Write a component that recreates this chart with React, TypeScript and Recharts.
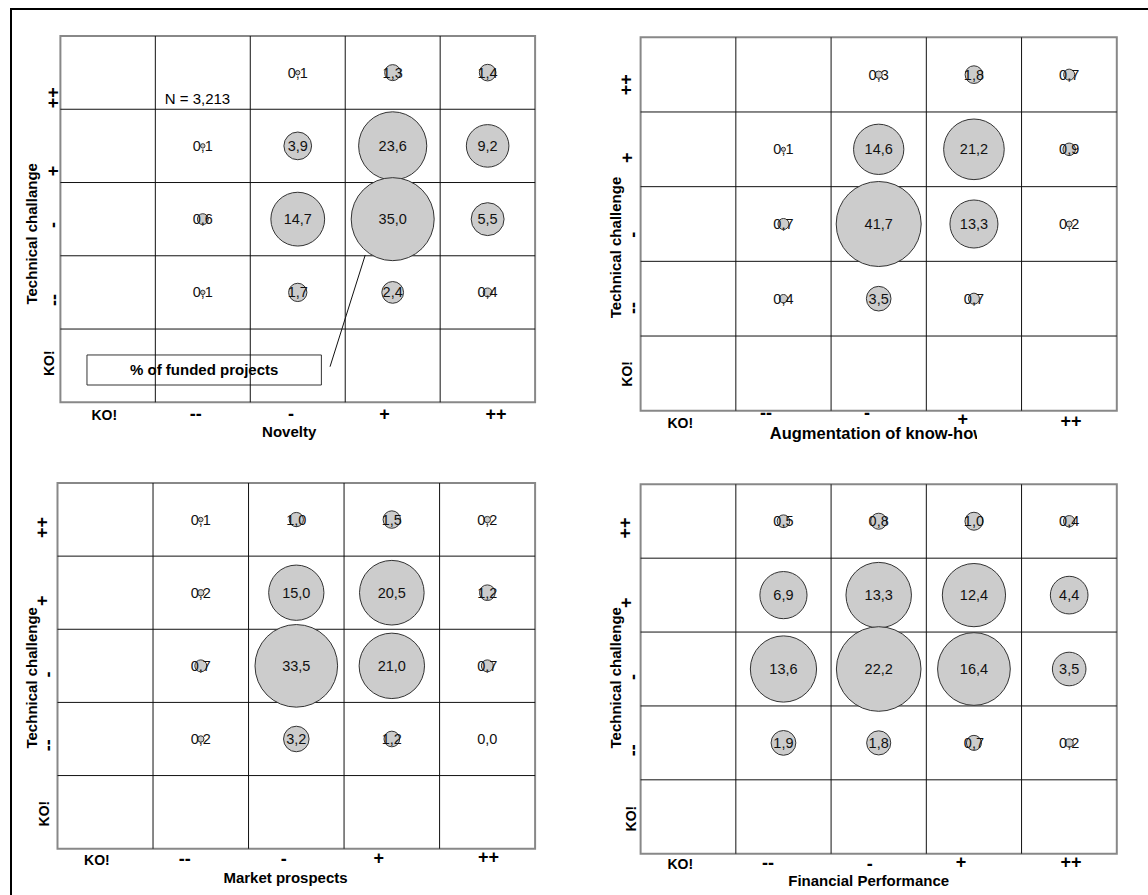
import React from 'react';
import {
  ScatterChart,
  Scatter,
  XAxis,
  YAxis,
  ZAxis,
  ReferenceLine,
  ReferenceArea,
  ReferenceDot,
  Label,
} from 'recharts';

// category labels, left to right / bottom to top
const xCategories = ['KO!', '--', '-', '+', '++'];
const yCategories = ['KO!', '--', '-', '+', '++'];

// % of funded projects
// rows: technical challenge ++, +, -, --   columns: --, -, +, ++   (KO! row / column empty)
const noveltyValues = [
  [null, 0.1, 1.3, 1.4],
  [0.1, 3.9, 23.6, 9.2],
  [0.6, 14.7, 35.0, 5.5],
  [0.1, 1.7, 2.4, 0.4],
];
const knowHowValues = [
  [null, 0.3, 1.8, 0.7],
  [0.1, 14.6, 21.2, 0.9],
  [0.7, 41.7, 13.3, 0.2],
  [0.4, 3.5, 0.7, null],
];
const marketValues = [
  [0.1, 1.0, 1.5, 0.2],
  [0.2, 15.0, 20.5, 1.2],
  [0.7, 33.5, 21.0, 0.7],
  [0.2, 3.2, 1.2, 0.0],
];
const financialValues = [
  [0.5, 0.8, 1.0, 0.4],
  [6.9, 13.3, 12.4, 4.4],
  [13.6, 22.2, 16.4, 3.5],
  [1.9, 1.8, 0.7, 0.2],
];

const sampleSize = 'N = 3,213';
const calloutText = '% of funded projects';

const tickValues = [0.5, 1.5, 2.5, 3.5, 4.5];
const cellBounds = [1, 2, 3, 4];

const FONT = '"Liberation Sans", Arial, sans-serif';
const W = 574;
const H = 448;
const Y_AXIS_W = 40;
const X_AXIS_H = 30;

type Pt = { x: number; y: number; z: number; label: string };

const toPoints = (rows: (number | null)[][]): Pt[] => {
  const pts: Pt[] = [];
  rows.forEach((row, r) => {
    row.forEach((v, c) => {
      if (v === null) return;
      pts.push({ x: c + 1.5, y: 4.5 - r, z: v, label: v.toFixed(1).replace('.', ',') });
    });
  });
  return pts;
};

// tick offsets: [dx, dy] of the label centre from the axis-given tick point
const panels = [
  {
    key: 'novelty',
    values: noveltyValues,
    xTitle: 'Novelty',
    yTitle: 'Technical challange',
    ox: 0, oy: 0,
    grid: { l: 60.4, t: 36, r: 535.1, b: 402.3 },
    rMax: 41.5,
    xTicks: [[-3.6, 12.7], [-7, 12], [-6.7, 12], [-8.3, 11.5], [8.4, 11.5]],
    yTicks: [[-11, -2.5], [-6, 7.6], [-7, 5.8], [-7.4, 25], [-7.3, 25]],
    xTitlePos: { x: 289.2, y: 436.7, anchor: 'middle', size: 15 },
    yTitlePos: { x: 32, y: 233.8 },
    callout: true,
  },
  {
    key: 'knowhow',
    values: knowHowValues,
    xTitle: 'Augmentation of know-how',
    yTitle: 'Technical challenge',
    ox: 574, oy: 0,
    grid: { l: 66.6, t: 37.3, r: 542.8, b: 410.7 },
    rMax: 42.5,
    xTicks: [[-8, 12.6], [-17.5, 1.8], [-11.7, 2.6], [-11.2, 8.3], [1.8, 10]],
    yTicks: [[-13.6, 0.5], [-8, 9.3], [-8, 10.8], [-13.6, 8.3], [-14.4, 10]],
    xTitlePos: { x: 195.8, y: 438.7, anchor: 'start', size: 16.5, clip: 403 },
    yTitlePos: { x: 41.2, y: 247.5 },
  },
  {
    key: 'market',
    values: marketValues,
    xTitle: 'Market prospects',
    yTitle: 'Technical challenge',
    ox: 0, oy: 447,
    grid: { l: 57.5, t: 36, r: 535.1, b: 401.7 },
    rMax: 41.3,
    xTicks: [[-8.3, 11.6], [-16, 10.6], [-12.6, 10.3], [-13, 9.1], [1.3, 8.3]],
    yTicks: [[-13.6, 1.5], [-9.4, 6.3], [-9.4, 8.7], [-15.5, 8], [-15.4, 7.8]],
    xTitlePos: { x: 285.5, y: 435.7, anchor: 'middle', size: 15 },
    yTitlePos: { x: 32, y: 230.8 },
  },
  {
    key: 'financial',
    values: financialValues,
    xTitle: 'Financial Performance',
    yTitle: 'Technical challenge',
    ox: 574, oy: 447,
    grid: { l: 66.6, t: 37.3, r: 542.8, b: 406.7 },
    rMax: 42.3,
    xTicks: [[-8, 10], [-15.5, 9.3], [-9, 10], [-13, 8.3], [1.8, 8.3]],
    yTicks: [[-9.8, 1.8], [-7.6, 7.3], [-7.6, 8], [-14.4, 7.5], [-15.4, 6.8]],
    xTitlePos: { x: 294.7, y: 439.3, anchor: 'middle', size: 15 },
    yTitlePos: { x: 41.2, y: 230.8 },
  },
];

// callout (data coordinates of the first panel)
const calloutBox = { x1: 0.28, x2: 2.749, y1: 0.236, y2: 0.646 };
const calloutLeader = [{ x: 2.84, y: 0.486 }, { x: 3.211, y: 2.011 }];
const sampleSizeAt = { x: 1.099, y: 4.072 };

const tickFont = (label: string) => (label === 'KO!' ? 14 : 18);

const Bubble = (props: any) => {
  const { cx, cy, payload } = props;
  const r = props.width ? props.width / 2 : Math.sqrt(Math.max(props.size || 0, 0) / Math.PI);
  return (
    <g>
      {r > 0 && <circle cx={cx} cy={cy} r={r} fill="#cccccc" stroke="#333333" strokeWidth={1} />}
      <text x={cx} y={cy} textAnchor="middle" dominantBaseline="central" fontSize={14.5} fill="#111">
        {payload.label}
      </text>
    </g>
  );
};

const Panel = ({ p }: { p: any }) => {
  const data = toPoints(p.values);
  const maxVal = Math.max(...data.map(d => d.z));
  const margin = {
    top: p.grid.t,
    left: p.grid.l - Y_AXIS_W,
    right: W - p.grid.r,
    bottom: H - p.grid.b - X_AXIS_H,
  };

  const xTick = (t: any) => {
    const i = tickValues.indexOf(t.payload.value);
    const [dx, dy] = p.xTicks[i];
    const label = xCategories[i];
    return (
      <text x={t.x + dx} y={t.y + dy} textAnchor="middle" dominantBaseline="central" fontWeight="bold"
        fontSize={tickFont(label)} fill="#000">
        {label}
      </text>
    );
  };

  const yTick = (t: any) => {
    const i = tickValues.indexOf(t.payload.value);
    const [dx, dy] = p.yTicks[i];
    const x = t.x + dx;
    const y = t.y + dy;
    const label = yCategories[i];
    return (
      <text x={x} y={y} transform={`rotate(-90 ${x} ${y})`} textAnchor="middle" dominantBaseline="central"
        fontWeight="bold" fontSize={tickFont(label)} fill="#000">
        {label}
      </text>
    );
  };

  const xTitle = () => {
    const pos = p.xTitlePos;
    const clipId = `clip-${p.key}`;
    return (
      <g>
        {pos.clip && (
          <defs>
            <clipPath id={clipId}>
              <rect x={0} y={0} width={pos.clip} height={H} />
            </clipPath>
          </defs>
        )}
        <text x={pos.x} y={pos.y} textAnchor={pos.anchor} fontWeight="bold" fontSize={pos.size} fill="#000"
          clipPath={pos.clip ? `url(#${clipId})` : undefined}>
          {p.xTitle}
        </text>
      </g>
    );
  };

  const yTitle = () => {
    const { x, y } = p.yTitlePos;
    return (
      <text x={x} y={y} transform={`rotate(-90 ${x} ${y})`} textAnchor="middle" dominantBaseline="central"
        fontWeight="bold" fontSize={15} fill="#000">
        {p.yTitle}
      </text>
    );
  };

  return (
    <div style={{ position: 'absolute', left: p.ox, top: p.oy }}>
      <ScatterChart width={W} height={H} margin={margin}>
        <XAxis type="number" dataKey="x" domain={[0, 5]} ticks={tickValues} interval={0}
          axisLine={false} tickLine={false} tickSize={0} tickMargin={0} height={X_AXIS_H} tick={xTick}>
          <Label content={xTitle} />
        </XAxis>
        <YAxis type="number" dataKey="y" domain={[0, 5]} ticks={tickValues} interval={0}
          axisLine={false} tickLine={false} tickSize={0} tickMargin={0} width={Y_AXIS_W} tick={yTick}>
          <Label content={yTitle} />
        </YAxis>
        <ZAxis type="number" dataKey="z" domain={[0, maxVal]} range={[0, Math.PI * p.rMax * p.rMax]} />

        {cellBounds.map(b => (
          <ReferenceLine key={`v${b}`} x={b} stroke="#111" strokeWidth={1} />
        ))}
        {cellBounds.map(b => (
          <ReferenceLine key={`h${b}`} y={b} stroke="#111" strokeWidth={1} />
        ))}
        <ReferenceArea x1={0} x2={5} y1={0} y2={5} fill="none" fillOpacity={0} stroke="#888888" strokeWidth={2} />

        {p.callout && (
          <ReferenceArea {...calloutBox} fill="#ffffff" fillOpacity={1} stroke="#333" strokeWidth={1}
            label={(lp: any) => {
              const vb = lp.viewBox;
              return (
                <text x={vb.x + vb.width / 2} y={vb.y + vb.height / 2} textAnchor="middle" dominantBaseline="central"
                  fontWeight="bold" fontSize={15} fill="#000">
                  {calloutText}
                </text>
              );
            }} />
        )}
        {p.callout && <ReferenceLine segment={calloutLeader} stroke="#111" strokeWidth={1} />}
        {p.callout && (
          <ReferenceDot x={sampleSizeAt.x} y={sampleSizeAt.y} r={0} stroke="none" fill="none"
            label={(lp: any) => {
              const vb = lp.viewBox;
              return (
                <text x={vb.x} y={vb.y} textAnchor="start" fontSize={15} fill="#000">
                  {sampleSize}
                </text>
              );
            }} />
        )}

        <Scatter data={data} shape={Bubble} isAnimationActive={false} />
      </ScatterChart>
    </div>
  );
};

export default function App() {
  return (
    <div style={{ position: 'absolute', left: 0, top: 0, width: 1148, height: 895, overflow: 'hidden',
      background: '#fff', fontFamily: FONT }}>
      <div style={{ position: 'absolute', left: 10, top: 8, width: 1300, height: 1000,
        borderLeft: '2px solid #000', borderTop: '2px solid #000' }} />
      {panels.map(p => <Panel key={p.key} p={p} />)}
    </div>
  );
}
